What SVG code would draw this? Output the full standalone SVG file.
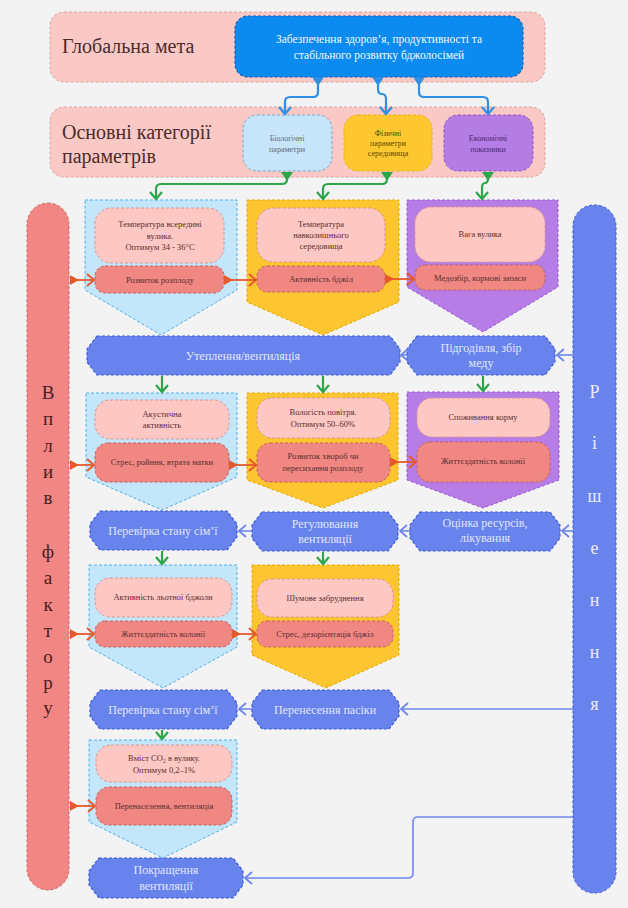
<svg xmlns="http://www.w3.org/2000/svg" width="628" height="908" viewBox="0 0 628 908">
<style>
text{font-family:"Liberation Serif","DejaVu Serif",serif;dominant-baseline:central;text-anchor:middle}
.band{fill:#fbc9c5;stroke:#d9a5a1;stroke-width:1;stroke-dasharray:3 2}
.big{font-size:20px;fill:#4b2b2b;text-anchor:start}
.goal{fill:#0b8bef;stroke:#1a5fb4;stroke-width:1.2;stroke-dasharray:3 2}
.goalt{font-size:11.5px;fill:#f2f8ff}
.bio{fill:#c6e5fa;stroke:#7aa7cc;stroke-width:1;stroke-dasharray:3 2}
.phy{fill:#fdc82f;stroke:#e8b30f;stroke-width:1;stroke-dasharray:3 2}
.eco{fill:#b47de4;stroke:#9258c8;stroke-width:1;stroke-dasharray:3 2}
.ct{font-size:8px}
.c1{fill:#c4e6fb;stroke:#4fb0ea;stroke-width:1;stroke-dasharray:3 2}
.c2{fill:#fdc52f;stroke:#e6a800;stroke-width:1;stroke-dasharray:3 2}
.c3{fill:#b77de6;stroke:#9a55d6;stroke-width:1;stroke-dasharray:3 2}
.pa{fill:#fdc7c3;stroke:#d99692;stroke-width:1;stroke-dasharray:3 2}
.pb{fill:#f08783;stroke:#c4605c;stroke-width:1;stroke-dasharray:3 2}
.t{font-size:8.5px;fill:#5a2e2e}
.hx{fill:#6983ec;stroke:#3b5bd9;stroke-width:1.2;stroke-dasharray:3 2}
.ht{font-size:12px;fill:#e0e6ff}
.lbar{fill:#f28684;stroke:#cf6a68;stroke-width:1;stroke-dasharray:3 2}
.rbar{fill:#6983ec;stroke:#3b5bd9;stroke-width:1;stroke-dasharray:3 2}
.lt{font-size:19px;fill:#4b2020}
.rt{font-size:18px;fill:#e6ebff}
.cb{fill:none;stroke:#2d8fe6;stroke-width:2.2;marker-start:url(#triB);marker-end:url(#chB)}
.cg{fill:none;stroke:#2da64a;stroke-width:2.2;marker-end:url(#chG)}
.cgs{marker-start:url(#triG)}
.cr{fill:none;stroke:#e55a2b;stroke-width:1.8;marker-start:url(#triR);marker-end:url(#chR)}
.cl{fill:none;stroke:#6b86ee;stroke-width:1.6;marker-end:url(#chL)}
</style>
<defs>
<marker id="chB" markerUnits="userSpaceOnUse" markerWidth="12" markerHeight="14" refX="9" refY="7" orient="auto"><path d="M2,1 L9,7 L2,13" fill="none" stroke="#2d8fe6" stroke-width="2.2"/></marker>
<marker id="triB" markerUnits="userSpaceOnUse" markerWidth="10" markerHeight="12" refX="0" refY="6" orient="auto"><path d="M0,0 L9,6 L0,12 z" fill="#2d8fe6"/></marker>
<marker id="chG" markerUnits="userSpaceOnUse" markerWidth="12" markerHeight="14" refX="9" refY="7" orient="auto"><path d="M2,1 L9,7 L2,13" fill="none" stroke="#2da64a" stroke-width="2.2"/></marker>
<marker id="triG" markerUnits="userSpaceOnUse" markerWidth="10" markerHeight="12" refX="0" refY="6" orient="auto"><path d="M0,0 L9,6 L0,12 z" fill="#2da64a"/></marker>
<marker id="chR" markerUnits="userSpaceOnUse" markerWidth="12" markerHeight="14" refX="9" refY="7" orient="auto"><path d="M2,1 L9,7 L2,13" fill="none" stroke="#e55a2b" stroke-width="2"/></marker>
<marker id="triR" markerUnits="userSpaceOnUse" markerWidth="10" markerHeight="12" refX="0" refY="6" orient="auto"><path d="M0,1 L9,6 L0,11 z" fill="#e55a2b"/></marker>
<marker id="chL" markerUnits="userSpaceOnUse" markerWidth="12" markerHeight="14" refX="9" refY="7" orient="auto"><path d="M2,1 L9,7 L2,13" fill="none" stroke="#6b86ee" stroke-width="1.8"/></marker>
</defs>
<rect x="0" y="0" width="628" height="908" fill="#f4f3f3"/>

<g id="band-goal">
<rect class="band" x="50" y="12" width="495" height="70" rx="14"/>
<text class="big" x="62" y="46">Глобальна мета</text>
</g>
<g id="goal">
<rect class="goal" x="235" y="16" width="288" height="61" rx="13"/>
<text class="goalt" x="379" y="39">Забезпечення здоров’я, продуктивності та</text>
<text class="goalt" x="379" y="55">стабільного розвитку бджолосімей</text>
</g>
<g id="band-cat">
<rect class="band" x="50" y="107" width="495" height="70" rx="14"/>
<text class="big" x="62" y="132">Основні категорії</text>
<text class="big" x="62" y="156">параметрів</text>
</g>
<g id="cat-bio">
<rect class="bio" x="243" y="115" width="89" height="56" rx="14"/>
<text class="ct" x="287" y="138" fill="#5f6b7a">Біологічні</text>
<text class="ct" x="287" y="149" fill="#5f6b7a">параметри</text>
</g>
<g id="cat-phy">
<rect class="phy" x="344" y="115" width="88" height="56" rx="14"/>
<text class="ct" x="388" y="133" fill="#5e4600">Фізичні</text>
<text class="ct" x="388" y="143" fill="#5e4600">параметри</text>
<text class="ct" x="388" y="153" fill="#5e4600">середовища</text>
</g>
<g id="cat-eco">
<rect class="eco" x="444" y="115" width="89" height="56" rx="14"/>
<text class="ct" x="488" y="138" fill="#4a2870">Економічні</text>
<text class="ct" x="488" y="149" fill="#4a2870">показники</text>
</g>

<g id="left-bar">
<rect class="lbar" x="27" y="203" width="42" height="687" rx="21"/>
<text class="lt" x="48" y="392">В</text>
<text class="lt" x="48" y="418">п</text>
<text class="lt" x="48" y="445">л</text>
<text class="lt" x="48" y="471">и</text>
<text class="lt" x="48" y="497">в</text>
<text class="lt" x="48" y="551">ф</text>
<text class="lt" x="48" y="577">а</text>
<text class="lt" x="48" y="604">к</text>
<text class="lt" x="48" y="630">т</text>
<text class="lt" x="48" y="656">о</text>
<text class="lt" x="48" y="682">р</text>
<text class="lt" x="48" y="707">у</text>
</g>
<g id="right-bar">
<rect class="rbar" x="573" y="205" width="43" height="688" rx="21"/>
<text class="rt" x="594.5" y="392">Р</text>
<text class="rt" x="594.5" y="443">і</text>
<text class="rt" x="594.5" y="496">ш</text>
<text class="rt" x="594.5" y="548">е</text>
<text class="rt" x="594.5" y="600">н</text>
<text class="rt" x="594.5" y="652">н</text>
<text class="rt" x="594.5" y="704">я</text>
</g>

<g id="col1-s1">
<polygon class="c1" points="85,200 237,200 237,290 161,335 85,290"/>
<rect class="pa" x="95" y="208" width="129" height="55" rx="16"/>
<text class="t" x="160" y="224">Температура всередині</text>
<text class="t" x="160" y="236">вулика.</text>
<text class="t" x="160" y="247">Оптимум 34 - 36°C</text>
<rect class="pb" x="95" y="266" width="129" height="27" rx="10"/>
<text class="t" x="160" y="280">Розвиток розплоду</text>
</g>
<g id="col2-s1">
<polygon class="c2" points="247,200 399,200 399,302 323,335 247,302"/>
<rect class="pa" x="257" y="208" width="128" height="54" rx="16"/>
<text class="t" x="321" y="224">Температура</text>
<text class="t" x="321" y="235">навколишнього</text>
<text class="t" x="321" y="246">середовища</text>
<rect class="pb" x="257" y="266" width="128" height="26" rx="10"/>
<text class="t" x="321" y="279">Активність бджіл</text>
</g>
<g id="col3-s1">
<polygon class="c3" points="407,200 558,200 558,287 483,332 407,287"/>
<rect class="pa" x="415" y="207" width="130" height="55" rx="16"/>
<text class="t" x="480" y="234">Вага вулика</text>
<rect class="pb" x="415" y="265" width="130" height="25" rx="10"/>
<text class="t" x="480" y="277.5">Медозбір, кормові запаси</text>
</g>

<g id="col1-s2">
<polygon class="c1" points="86,393 237,393 237,477 162,510 86,477"/>
<rect class="pa" x="95" y="400" width="134" height="39" rx="15"/>
<text class="t" x="162" y="414">Акустична</text>
<text class="t" x="162" y="425">активність</text>
<rect class="pb" x="95" y="443" width="134" height="39" rx="13"/>
<text class="t" x="162" y="462">Стрес, ройння, втрата матки</text>
</g>
<g id="col2-s2">
<polygon class="c2" points="247,393 398,393 398,480 323,508 247,480"/>
<rect class="pa" x="257" y="398" width="133" height="40" rx="15"/>
<text class="t" x="323" y="412">Вологість повітря.</text>
<text class="t" x="323" y="424">Оптимум 50–60%</text>
<rect class="pb" x="257" y="443" width="133" height="39" rx="13"/>
<text class="t" x="323" y="456">Розвиток хвороб чи</text>
<text class="t" x="323" y="468">пересихання розплоду</text>
</g>
<g id="col3-s2">
<polygon class="c3" points="407,392 559,392 559,480 483,508 407,480"/>
<rect class="pa" x="417" y="398" width="133" height="39" rx="15"/>
<text class="t" x="483" y="417">Споживання корму</text>
<rect class="pb" x="417" y="442" width="133" height="40" rx="13"/>
<text class="t" x="483" y="461">Життєздатність колонії</text>
</g>

<g id="col1-s3">
<polygon class="c1" points="89,565 237,565 237,647 163,688 89,647"/>
<rect class="pa" x="95" y="578" width="137" height="39" rx="15"/>
<text class="t" x="163" y="597">Активність льотної бджоли</text>
<rect class="pb" x="95" y="621" width="137" height="26" rx="10"/>
<text class="t" x="163" y="634">Життєздатність колонії</text>
</g>
<g id="col2-s3">
<polygon class="c2" points="252,565 399,565 399,655 326,688 252,655"/>
<rect class="pa" x="257" y="579" width="136" height="38" rx="15"/>
<text class="t" x="325" y="598">Шумове забруднення</text>
<rect class="pb" x="257" y="621" width="136" height="26" rx="10"/>
<text class="t" x="325" y="634">Стрес, дезорієнтація бджіл</text>
</g>

<g id="col1-s4">
<polygon class="c1" points="89,740 237,740 237,822 163,858 89,822"/>
<rect class="pa" x="96" y="745" width="136" height="37" rx="15"/>
<text class="t" x="164" y="758">Вміст CO₂ в вулику.</text>
<text class="t" x="164" y="770">Оптимум 0,2–1%</text>
<rect class="pb" x="96" y="787" width="136" height="38" rx="13"/>
<text class="t" x="164" y="806">Перенаселення, вентиляція</text>
</g>

<g id="hex-warm">
<polygon class="hx" points="97,336 390,336 400,349 400,362 390,375 97,375 87,362 87,349"/>
<text class="ht" x="243" y="355.5">Утеплення/вентиляція</text>
</g>
<g id="hex-feed">
<polygon class="hx" points="417,336 545,336 555,349 555,362 545,375 417,375 407,362 407,349"/>
<text class="ht" x="481" y="348">Підгодівля, збір</text>
<text class="ht" x="481" y="363">меду</text>
</g>
<g id="hex-check1">
<polygon class="hx" points="100,511 227,511 237,524 237,537 227,550 100,550 90,537 90,524"/>
<text class="ht" x="163" y="531">Перевірка стану сім’ї</text>
</g>
<g id="hex-vent">
<polygon class="hx" points="262,512 388,512 398,525 398,538 388,551 262,551 252,538 252,525"/>
<text class="ht" x="325" y="524">Регулювання</text>
<text class="ht" x="325" y="539">вентиляції</text>
</g>
<g id="hex-res">
<polygon class="hx" points="420,512 550,512 560,525 560,538 550,551 420,551 410,538 410,525"/>
<text class="ht" x="485" y="523">Оцінка ресурсів,</text>
<text class="ht" x="485" y="538">лікування</text>
</g>
<g id="hex-check2">
<polygon class="hx" points="100,690 227,690 237,703 237,716 227,729 100,729 90,716 90,703"/>
<text class="ht" x="163" y="709.5">Перевірка стану сім’ї</text>
</g>
<g id="hex-move">
<polygon class="hx" points="262,690 389,690 399,703 399,716 389,729 262,729 252,716 252,703"/>
<text class="ht" x="325" y="709.5">Перенесення пасіки</text>
</g>
<g id="hex-improve">
<polygon class="hx" points="99,858 233,858 243,871 243,885 233,898 99,898 89,885 89,871"/>
<text class="ht" x="166" y="870">Покращення</text>
<text class="ht" x="166" y="886">вентиляції</text>
</g>

<g id="connectors">
<path class="cb" d="M318,77 V92 Q318,97 313,97 H290 Q285,97 285,102 V114"/>
<path class="cb" d="M378,77 V89 Q378,94 382,94 Q386,94 386,99 V114"/>
<path class="cb" d="M419,77 V92 Q419,97 424,97 H483 Q488,97 488,102 V114"/>
<path class="cg cgs" d="M287,172 V179 Q287,184 282,184 H161 Q156,184 156,189 V199"/>
<path class="cg cgs" d="M387,172 V179 Q387,184 382,184 H328 Q323,184 323,189 V199"/>
<path class="cg cgs" d="M488,172 V178 Q488,183 485,183 Q482,183 482,188 V199"/>
<path class="cg" d="M162,376 V392"/>
<path class="cg" d="M323,376 V392"/>
<path class="cg" d="M483,376 V391"/>
<path class="cg" d="M162,551 V564"/>
<path class="cg" d="M323,552 V564"/>
<path class="cg" d="M162,730 V739"/>
<path class="cr" d="M70,280 H94"/>
<path class="cr" d="M224,280 H256"/>
<path class="cr" d="M385,279 H414"/>
<path class="cr" d="M70,465 H94"/>
<path class="cr" d="M229,465 H256"/>
<path class="cr" d="M390,462 H416"/>
<path class="cr" d="M70,634 H94"/>
<path class="cr" d="M232,634 H256"/>
<path class="cr" d="M70,806 H95"/>
<path class="cl" d="M573,355 H557"/>
<path class="cl" d="M407,355 H401"/>
<path class="cl" d="M573,531 H562"/>
<path class="cl" d="M410,531 H400"/>
<path class="cl" d="M252,531 H239"/>
<path class="cl" d="M573,709 H401"/>
<path class="cl" d="M252,709 H239"/>
<path class="cl" d="M573,817 H418 Q413,817 413,822 V873 Q413,878 408,878 H245"/>
</g>
</svg>
